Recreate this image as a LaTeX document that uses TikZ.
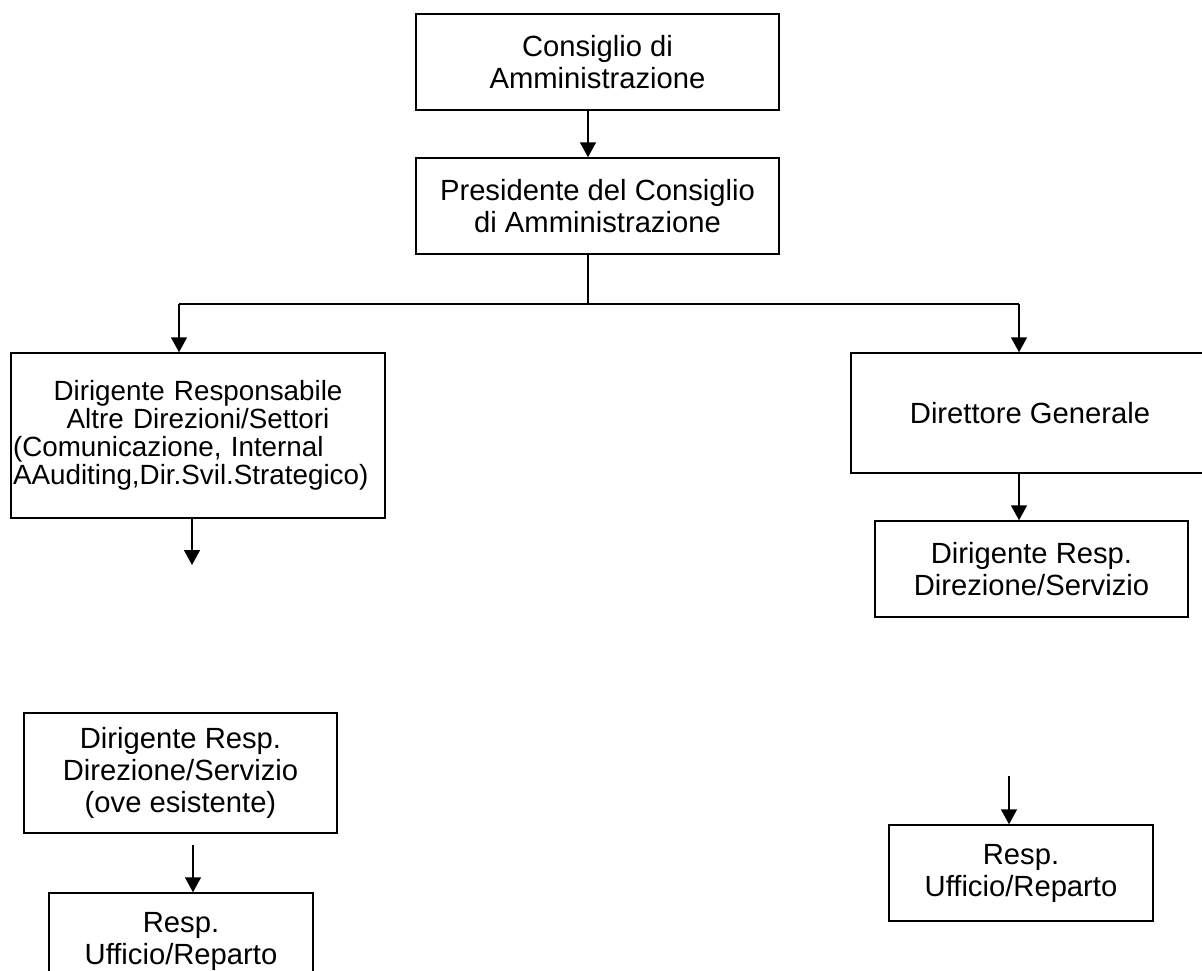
\documentclass[tikz,border=0pt]{standalone}
\usepackage{fontspec}
\setmainfont{Liberation Sans}
\usetikzlibrary{arrows.meta}
\begin{document}
\begin{tikzpicture}[x=0.5pt,y=-0.5pt,
  box/.style={draw=black, line width=0.75pt, inner sep=0pt, align=center,
     font=\fontsize{14.6pt}{16pt}\selectfont},
  widebox/.style={draw=black, line width=0.75pt, inner xsep=1pt, inner ysep=0pt,
     font=\fontsize{13.9pt}{13.9pt}\selectfont},
  arr/.style={line width=0.75pt, -{Triangle[width=8pt,length=7.5pt]}},
  ln/.style={line width=0.75pt}]
\fill[white] (0,0) rectangle (1202,970);
\useasboundingbox (0,0) rectangle (1202,970);
% boxes
\node[box, minimum width=181.5pt, minimum height=48pt] (B1) at (597.5,62) {Consiglio di\\Amministrazione};
\node[box, minimum width=181.5pt, minimum height=48pt] (B2) at (597.5,206) {Presidente del Consiglio\\di Amministrazione};
\node[widebox, text width=185pt, minimum height=82.5pt] (L1) at (198,435.5)
  {\centering Dirigente Responsabile\\Altre Direzioni/Settori\par
   \raggedright (Comunicazione, Internal\\AAuditing,Dir.Svil.Strategico)\par};
\node[box, minimum width=179pt, minimum height=60pt] (DG) at (1030,413) {Direttore Generale};
\node[box, minimum width=156.5pt, minimum height=48pt] (DRDS) at (1031.5,569) {Dirigente Resp.\\Direzione/Servizio};
\node[box, minimum width=156.5pt, minimum height=60pt] (L2) at (180.5,773) {Dirigente Resp.\\Direzione/Servizio\\(ove esistente)};
\node[box, minimum width=132pt, minimum height=48pt] (LR) at (181,941) {Resp.\\Ufficio/Reparto};
\node[box, minimum width=132pt, minimum height=48pt] (RR) at (1021,873) {Resp.\\Ufficio/Reparto};
% helper coordinates
\coordinate (cx) at (588,0);
\coordinate (busL) at (179,304);
\coordinate (busR) at (1019,304);
\coordinate (e1) at (192,565);
\coordinate (s2) at (193,845);
\coordinate (s3) at (1009,776);
% connectors
\draw[arr] (B1.south -| cx) -- (B2.north -| cx);
\draw[ln] (B2.south -| cx) -- (cx |- busL);
\draw[ln] (busL) -- (busR);
\draw[arr] (busL) -- (L1.north -| busL);
\draw[arr] (busR) -- (DG.north -| busR);
\draw[arr] (DG.south -| busR) -- (DRDS.north -| busR);
\draw[arr] (L1.south -| e1) -- (e1);
\draw[arr] (s2) -- (LR.north -| s2);
\draw[arr] (s3) -- (RR.north -| s3);
\end{tikzpicture}
\end{document}
